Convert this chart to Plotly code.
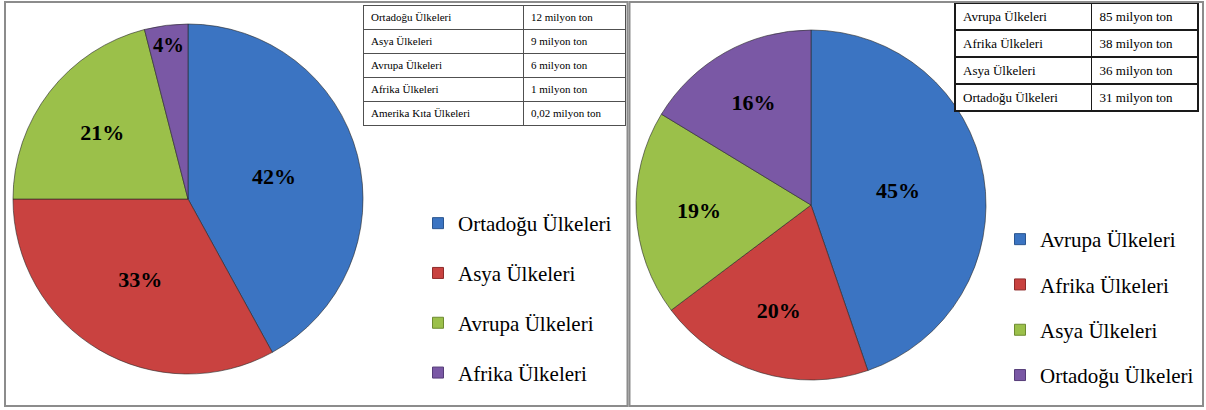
import plotly.graph_objects as go

W, H = 1206, 410

# ---- data ----
left_labels = ["Ortadoğu Ülkeleri", "Asya Ülkeleri", "Avrupa Ülkeleri", "Afrika Ülkeleri"]
left_values = [42, 33, 21, 4]  # shares (%)
left_table_names = ["Ortadoğu Ülkeleri", "Asya Ülkeleri", "Avrupa Ülkeleri",
                    "Afrika Ülkeleri", "Amerika Kıta Ülkeleri"]
left_table_amounts = ["12 milyon ton", "9 milyon ton", "6 milyon ton",
                      "1 milyon ton", "0,02 milyon ton"]

right_labels = ["Avrupa Ülkeleri", "Afrika Ülkeleri", "Asya Ülkeleri", "Ortadoğu Ülkeleri"]
right_values = [85, 38, 36, 31]  # milyon ton
right_table_names = ["Avrupa Ülkeleri", "Afrika Ülkeleri", "Asya Ülkeleri", "Ortadoğu Ülkeleri"]
right_table_amounts = ["85 milyon ton", "38 milyon ton", "36 milyon ton", "31 milyon ton"]

colors = ["#3B74C2", "#C94240", "#9BC04A", "#7A58A5"]
edge = ["#2A5590", "#8E2B2A", "#6E8A30", "#553C78"]

SERIF = "Liberation Serif"


def px_x(p):
    return p / W


def px_y(p):
    return 1 - p / H


fig = go.Figure()

# ---- pies ----
pie_common = dict(
    sort=False,
    direction="clockwise",
    rotation=0,
    textposition="inside",
    insidetextorientation="horizontal",
    texttemplate="%{percent:.0%}",
    textfont=dict(family=SERIF, size=22, color="black", weight="bold"),
    showlegend=False,
    hoverinfo="label+value+percent",
)

fig.add_trace(go.Pie(
    labels=left_labels, values=left_values,
    marker=dict(colors=colors, line=dict(color="rgba(40,40,40,0.6)", width=1)),
    domain=dict(x=[px_x(13), px_x(363)], y=[px_y(374), px_y(24)]),
    **pie_common,
))

fig.add_trace(go.Pie(
    labels=right_labels, values=right_values,
    marker=dict(colors=colors, line=dict(color="rgba(40,40,40,0.6)", width=1)),
    domain=dict(x=[px_x(636), px_x(986)], y=[px_y(380), px_y(30)]),
    **pie_common,
))

# ---- legends (one entry per category, own group for spacing) ----
for i, lab in enumerate(left_labels):
    fig.add_trace(go.Scatter(
        x=[None], y=[None], mode="markers", name=lab,
        marker=dict(symbol="square", size=11, color=colors[i],
                    line=dict(color=edge[i], width=1)),
        legendgroup="L%d" % i, legend="legend", hoverinfo="skip",
    ))
for i, lab in enumerate(right_labels):
    fig.add_trace(go.Scatter(
        x=[None], y=[None], mode="markers", name=lab,
        marker=dict(symbol="square", size=11, color=colors[i],
                    line=dict(color=edge[i], width=1)),
        legendgroup="R%d" % i, legend="legend2", hoverinfo="skip",
    ))

# ---- tables ----
fig.add_trace(go.Table(
    domain=dict(x=[px_x(363), px_x(626)], y=[px_y(160), px_y(5)]),
    columnwidth=[160, 102],
    header=dict(values=[left_table_names[0], left_table_amounts[0]],
                align="left", height=24, fill_color="white",
                line=dict(color="#505050", width=1),
                font=dict(family=SERIF, size=11, color="black")),
    cells=dict(values=[left_table_names[1:], left_table_amounts[1:]],
               align="left", height=24, fill_color="white",
               line=dict(color="#505050", width=1),
               font=dict(family=SERIF, size=11, color="black")),
))

fig.add_trace(go.Table(
    domain=dict(x=[px_x(955), px_x(1198)], y=[px_y(150), px_y(3)]),
    columnwidth=[136, 106],
    header=dict(values=[right_table_names[0], right_table_amounts[0]],
                align="left", height=27, fill_color="white",
                line=dict(color="#1a1a1a", width=1.5),
                font=dict(family=SERIF, size=13, color="black")),
    cells=dict(values=[right_table_names[1:], right_table_amounts[1:]],
               align="left", height=27, fill_color="white",
               line=dict(color="#1a1a1a", width=1.5),
               font=dict(family=SERIF, size=13, color="black")),
))

# ---- panel frames ----
shapes = [
    dict(type="rect", xref="paper", yref="paper",
         x0=px_x(5), x1=px_x(627.5), y0=px_y(406), y1=px_y(2),
         line=dict(color="#8c8c8c", width=2), layer="above"),
    dict(type="rect", xref="paper", yref="paper",
         x0=px_x(629.5), x1=px_x(1203), y0=px_y(406), y1=px_y(2),
         line=dict(color="#8c8c8c", width=2), layer="above"),
]

legend_font = dict(family=SERIF, size=21, color="black")
fig.update_layout(
    width=W, height=H,
    margin=dict(l=0, r=0, t=0, b=0),
    paper_bgcolor="white", plot_bgcolor="white",
    font=dict(family=SERIF),
    xaxis=dict(visible=False), yaxis=dict(visible=False),
    shapes=shapes,
    legend=dict(x=px_x(418), xanchor="left", y=px_y(203), yanchor="top",
                font=legend_font, tracegroupgap=19.5, bgcolor="rgba(0,0,0,0)",
                itemclick=False, itemdoubleclick=False),
    legend2=dict(x=px_x(1000), xanchor="left", y=px_y(219), yanchor="top",
                 font=legend_font, tracegroupgap=15, bgcolor="rgba(0,0,0,0)",
                 itemclick=False, itemdoubleclick=False),
)

fig.write_html(
    "out.html",
    config={"displayModeBar": False},
    post_script="document.documentElement.style.margin='0';"
                "document.body.style.margin='0';"
                "document.body.style.overflow='hidden';",
)
